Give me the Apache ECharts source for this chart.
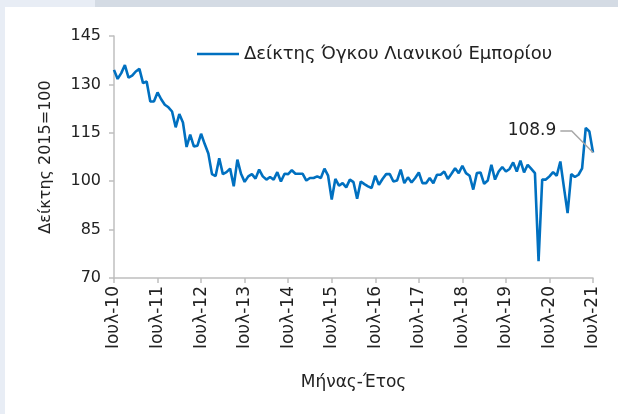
<!DOCTYPE html>
<html>
<head>
<meta charset="utf-8">
<script src="https://cdn.jsdelivr.net/npm/echarts@6/dist/echarts.min.js"></script>
<style>
  html, body { margin:0; padding:0; width:618px; height:414px; overflow:hidden; background:#e8edf5; }
  #topband { position:absolute; left:95px; top:0; width:523px; height:7px; background:#d4dbe4; }
  #panel { position:absolute; left:5px; top:7px; width:613px; height:407px; background:#ffffff; }
  #chart { position:absolute; left:0; top:0; width:618px; height:414px; }
</style>
</head>
<body>
<div id="topband"></div>
<div id="panel"></div>
<div id="chart"></div>
<script>
// Monthly index, Jul-2010 .. Jul-2021
const monthNames = ['Ιαν','Φεβ','Μαρ','Απρ','Μαΐ','Ιουν','Ιουλ','Αυγ','Σεπ','Οκτ','Νοε','Δεκ'];
const startYear = 2010, startMonth = 6; // July
const seriesName = 'Δείκτης Όγκου Λιανικού Εμπορίου';
const values = [
  134.5,131.7,133.5,136.0,132.1,132.7,134.0,134.8,130.4,130.9,124.7,124.7,
  127.5,125.4,123.7,122.9,121.6,116.7,120.8,118.2,110.6,114.4,110.8,111.0,
  114.7,111.5,108.6,102.2,101.6,107.1,102.2,102.8,103.9,98.4,106.7,102.3,
  99.8,101.5,102.2,100.8,103.6,101.5,100.5,101.3,100.5,102.8,99.9,102.3,
  102.2,103.4,102.3,102.3,102.3,100.2,101.0,101.0,101.5,101.0,103.9,101.7,
  94.3,100.7,98.6,99.4,98.1,100.5,99.7,94.6,99.9,99.1,98.4,97.9,
  101.7,98.9,100.7,102.2,102.2,99.9,100.2,103.6,99.4,101.2,99.6,101.0,
  102.7,99.4,99.4,101.0,99.4,102.0,102.0,103.0,100.7,102.3,104.0,102.5,
  104.8,102.5,101.7,97.4,102.5,102.7,99.2,100.2,105.1,100.5,103.0,104.4,
  103.0,103.8,105.8,103.0,106.4,102.7,105.1,103.8,102.5,75.2,100.5,100.5,
  101.5,102.8,101.7,106.1,98.0,90.1,102.2,101.3,102.0,104.0,116.5,115.4,
  108.9
];
const yMin = 70, yMax = 145, yStep = 15;
const yAxisName = 'Δείκτης 2015=100';
const xAxisName = 'Μήνας-Έτος';
// leader line for the last-value callout (data coordinates: month index, index value)
const calloutStart = [122.5, 115.7];
const calloutBend = [126.4, 115.7];

const categories = values.map((v, i) => {
  const m = (startMonth + i) % 12;
  const y = startYear + Math.floor((startMonth + i) / 12);
  return monthNames[m] + '-' + String(y).slice(2);
});
const lastIdx = values.length - 1;

const chart = echarts.init(document.getElementById('chart'), null, { renderer: 'canvas' });
const font = '"DejaVu Sans", sans-serif';
chart.setOption({
  backgroundColor: 'transparent',
  animation: false,
  grid: { left: 114, right: 25, top: 36, bottom: 136, containLabel: false },
  legend: {
    top: 45, left: 197, padding: 0,
    itemWidth: 42, itemHeight: 10, itemGap: 10,
    icon: 'path://M0,4 L42,4 L42,6.4 L0,6.4 Z',
    textStyle: { fontFamily: font, fontSize: 18, color: '#222' },
    data: [seriesName]
  },
  xAxis: {
    type: 'category', data: categories, boundaryGap: false,
    name: xAxisName, nameLocation: 'middle', nameGap: 96,
    nameTextStyle: { fontFamily: font, fontSize: 17, color: '#222' },
    axisLine: { lineStyle: { color: '#bfbfbf', width: 1.5 } },
    axisTick: { show: true, interval: 11, length: 5, lineStyle: { color: '#bfbfbf', width: 1.5 } },
    axisLabel: { interval: 11, rotate: 90, fontFamily: font, fontSize: 17, color: '#222', margin: 8 },
    splitLine: { show: false }
  },
  yAxis: {
    type: 'value', min: yMin, max: yMax, interval: yStep,
    name: yAxisName, nameLocation: 'middle', nameGap: 60, nameRotate: 90,
    nameTextStyle: { fontFamily: font, fontSize: 16, color: '#222' },
    axisLine: { show: true, lineStyle: { color: '#bfbfbf', width: 1.5 } },
    axisTick: { show: true, length: 5, lineStyle: { color: '#bfbfbf', width: 1.5 } },
    axisLabel: { fontFamily: font, fontSize: 16, color: '#222', margin: 13 },
    splitLine: { show: false }
  },
  series: [{
    name: seriesName, type: 'line', data: values,
    showSymbol: false, symbol: 'none',
    lineStyle: { color: '#0070c0', width: 2.6 },
    itemStyle: { color: '#0070c0' },
    markLine: {
      silent: true, symbol: ['none', 'none'], animation: false,
      lineStyle: { color: '#a6a6a6', width: 1.5, type: 'solid' },
      label: { show: false },
      data: [
        [
          { coord: calloutStart, label: { show: true, position: 'start', distance: 4,
              formatter: values[lastIdx].toFixed(1), fontFamily: font, fontSize: 17, color: '#222' } },
          { coord: calloutBend }
        ],
        [
          { coord: calloutBend },
          { coord: [lastIdx, values[lastIdx]] }
        ]
      ]
    }
  }]
});
</script>
</body>
</html>
